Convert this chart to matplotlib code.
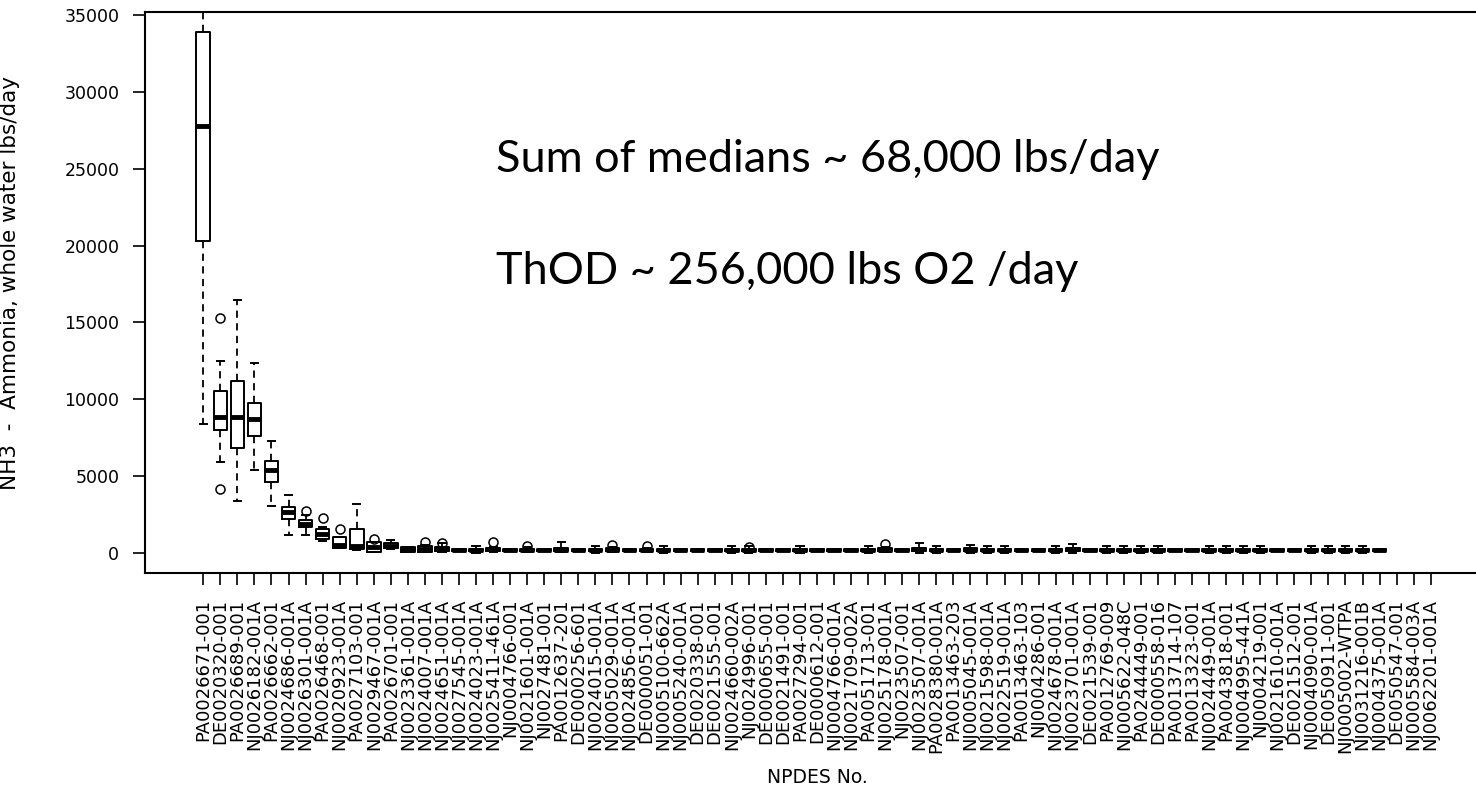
import matplotlib
matplotlib.use("Agg")
import matplotlib.pyplot as plt

# NPDES permit ids, in plotted order (last three have no data)
permits = [
    "PA0026671-001", "DE0020320-001", "PA0026689-001", "NJ0026182-001A", "PA0026662-001",
    "NJ0024686-001A", "NJ0026301-001A", "PA0026468-001", "NJ0020923-001A", "PA0027103-001",
    "NJ0029467-001A", "PA0026701-001", "NJ0023361-001A", "NJ0024007-001A", "NJ0024651-001A",
    "NJ0027545-001A", "NJ0024023-001A", "NJ0025411-461A", "NJ0004766-001", "NJ0021601-001A",
    "NJ0027481-001", "PA0012637-201", "DE0000256-601", "NJ0024015-001A", "NJ0005029-001A",
    "NJ0024856-001A", "DE0000051-001", "NJ0005100-662A", "NJ0005240-001A", "DE0020338-001",
    "DE0021555-001", "NJ0024660-002A", "NJ0024996-001", "DE0000655-001", "DE0021491-001",
    "PA0027294-001", "DE0000612-001", "NJ0004766-001A", "NJ0021709-002A", "PA0051713-001",
    "NJ0025178-001A", "NJ0023507-001", "NJ0023507-001A", "PA0028380-001A", "PA0013463-203",
    "NJ0005045-001A", "NJ0021598-001A", "NJ0022519-001A", "PA0013463-103", "NJ0004286-001",
    "NJ0024678-001A", "NJ0023701-001A", "DE0021539-001", "PA0012769-009", "NJ0005622-048C",
    "PA0244449-001", "DE0000558-016", "PA0013714-107", "PA0013323-001", "NJ0024449-001A",
    "PA0043818-001", "NJ0004995-441A", "NJ0004219-001", "NJ0021610-001A", "DE0021512-001",
    "NJ0004090-001A", "DE0050911-001", "NJ0005002-WTPA", "NJ0031216-001B", "NJ0004375-001A",
    "DE0050547-001", "NJ0005584-003A", "NJ0062201-001A",
]

# box statistics (lbs/day), one entry per permit that has data
q1 = [20280, 8010, 6860, 7630, 4640, 2210, 1670, 930, 310, 260,
      60, 310, 90, 90, 110, 120, 140, 160, 130, 140,
      130, 150, 130, 140, 150, 130, 140, 140, 130, 130,
      130, 140, 140, 130, 130, 140, 130, 130, 130, 140,
      140, 130, 150, 140, 130, 150, 140, 140, 130, 130,
      140, 150, 130, 140, 140, 140, 140, 130, 130, 140,
      140, 140, 140, 130, 130, 140, 140, 140, 140, 130]
med = [27780, 8830, 8830, 8710, 5400, 2690, 1890, 1220, 520, 480,
       410, 450, 260, 250, 230, 200, 210, 230, 190, 200,
       190, 220, 190, 200, 220, 190, 210, 200, 190, 190,
       190, 200, 210, 190, 190, 200, 190, 190, 190, 200,
       210, 190, 230, 200, 190, 220, 200, 200, 190, 190,
       200, 230, 190, 200, 200, 200, 200, 190, 190, 200,
       200, 200, 200, 190, 190, 200, 200, 200, 200, 190]
q3 = [33920, 10540, 11190, 9790, 6000, 3010, 2150, 1540, 1060, 1540,
      740, 630, 410, 450, 400, 280, 290, 320, 260, 290,
      260, 300, 260, 280, 310, 260, 290, 280, 260, 260,
      260, 280, 290, 260, 260, 280, 260, 260, 260, 280,
      300, 260, 330, 280, 260, 320, 280, 280, 260, 260,
      280, 330, 260, 280, 280, 280, 280, 260, 260, 280,
      280, 280, 280, 260, 260, 280, 280, 280, 280, 260]
whislo = [8420, 5890, 3370, 5410, 3080, 1170, 1170, 780, 300, 190,
          40, 240, 60, 60, 80, 110, 0, 60, 120, 40,
          120, 40, 120, 0, 40, 120, 40, 0, 120, 120,
          120, 0, 0, 120, 120, 0, 120, 120, 120, 0,
          40, 120, 0, 0, 120, 0, 0, 0, 120, 120,
          0, 0, 120, 0, 0, 0, 0, 120, 120, 0,
          0, 0, 0, 120, 120, 0, 0, 0, 0, 120]
whishi = [38000, 12510, 16430, 12390, 7290, 3770, 2470, 1710, 1060, 3190,
          740, 850, 410, 520, 630, 290, 430, 420, 270, 360,
          270, 700, 270, 430, 380, 270, 330, 440, 270, 270,
          270, 440, 460, 270, 270, 440, 270, 270, 270, 440,
          380, 270, 620, 440, 270, 520, 440, 440, 270, 270,
          440, 560, 270, 440, 440, 440, 440, 270, 270, 440,
          440, 440, 440, 270, 270, 440, 440, 440, 440, 270]
fliers = [[], [15320, 4160], [], [], [], [], [2750], [2290], [1540], [],
          [930], [], [], [740], [640], [], [], [700], [], [470],
          [], [], [], [], [520], [], [450], [], [], [],
          [], [], [420], [], [], [], [], [], [], [],
          [560], [], [], [], [], [], [], [], [], [],
          [], [], [], [], [], [], [], [], [], [],
          [], [], [], [], [], [], [], [], [], []]

note_medians = "Sum of medians ~ 68,000 lbs/day"
note_thod = "ThOD ~ 256,000 lbs O2 /day"

W, H = 1476, 791
fig = plt.figure(figsize=(W / 100, H / 100), dpi=100)
# axes runs a little past the right edge, as in the cropped original
ax = fig.add_axes([145 / W, 218 / H, 1344 / W, 561 / H])

stats = []
for i in range(len(med)):
    stats.append(dict(q1=q1[i], med=med[i], q3=q3[i], whislo=whislo[i],
                      whishi=whishi[i], fliers=fliers[i]))
positions = list(range(1, len(med) + 1))

ax.bxp(stats, positions=positions, widths=0.8, capwidths=0.42, manage_ticks=False,
       boxprops=dict(color="black", linewidth=1.4),
       medianprops=dict(color="black", linewidth=3.5, solid_capstyle="butt"),
       whiskerprops=dict(color="black", linewidth=1.3, linestyle=(0, (4, 3))),
       capprops=dict(color="black", linewidth=1.4),
       flierprops=dict(marker="o", markerfacecolor="none", markeredgecolor="black",
                       markersize=6.5, markeredgewidth=1.1))

ax.set_xlim(-2.42, len(permits) + 3.42)
ax.set_ylim(-1300, 35200)
ax.set_xticks(range(1, len(permits) + 1))
ax.set_xticklabels(permits, rotation=90, fontsize=13, family="DejaVu Sans")
ax.set_yticks(range(0, 35001, 5000))
ax.set_yticklabels([str(v) for v in range(0, 35001, 5000)], fontsize=12.5, family="DejaVu Sans")
ax.tick_params(axis="both", direction="out", length=8.5, width=1.2, pad=10, colors="black")
for s in ax.spines.values():
    s.set_linewidth(1.5)

ax.set_xlabel("NPDES No.", fontsize=13.5, family="DejaVu Sans")
ax.xaxis.set_label_coords(0.5, -0.347)
ax.set_ylabel("NH3  -  Ammonia, whole water lbs/day", fontsize=15.5, family="DejaVu Sans")
ax.yaxis.set_label_coords(-0.093, 0.517)

fig.text(496 / W, 1 - 160 / H, note_medians, fontsize=32.5, family="Lato", va="center", ha="left")
fig.text(496 / W, 1 - 272 / H, note_thod, fontsize=32.5, family="Lato", va="center", ha="left")

fig.savefig("out.png", dpi=100)
